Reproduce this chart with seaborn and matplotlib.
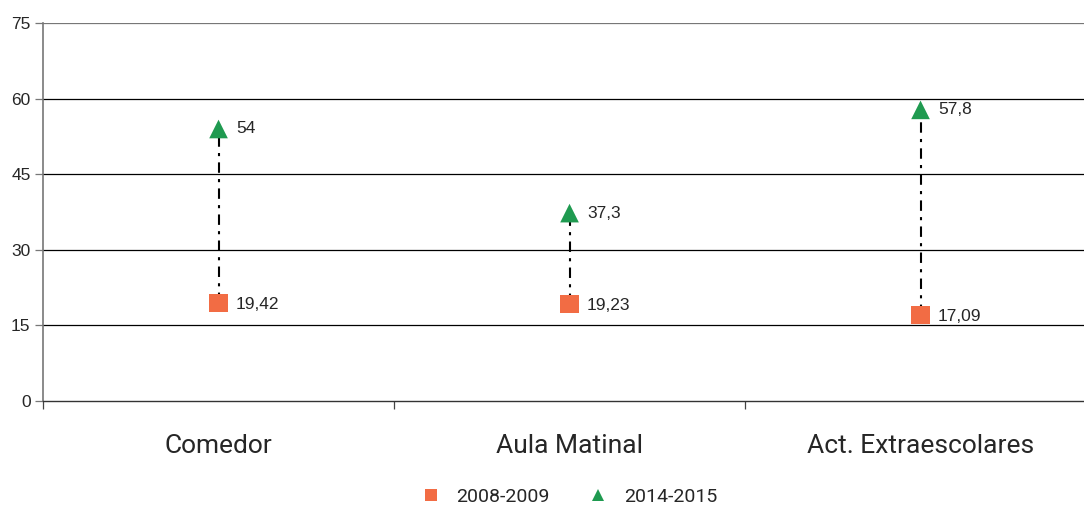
import matplotlib
matplotlib.use("Agg")
import matplotlib.pyplot as plt
import seaborn as sns
import pandas as pd
from matplotlib import font_manager

categorias = ["Comedor", "Aula Matinal", "Act. Extraescolares"]
serie_2008 = [19.42, 19.23, 17.09]
serie_2014 = [54, 37.3, 57.8]
etiq_2008 = ["19,42", "19,23", "17,09"]
etiq_2014 = ["54", "37,3", "57,8"]
periodos = ["2008-2009", "2014-2015"]
yticks = [0, 15, 30, 45, 60, 75]

df = pd.DataFrame({
    "cat": categorias * 2,
    "valor": serie_2008 + serie_2014,
    "periodo": [periodos[0]] * 3 + [periodos[1]] * 3,
})

sns.set_style("white")
plt.rcParams["font.family"] = ["Liberation Sans", "DejaVu Sans"]

nombres = {f.name for f in font_manager.fontManager.ttflist}
narrow = "Liberation Sans Narrow" if "Liberation Sans Narrow" in nombres else "Roboto"

fig = plt.figure(figsize=(10.84, 5.05), dpi=100)
# el eje se sale un poco por la derecha, como en el original
ax = fig.add_axes([0.0397, 0.206, 0.9714, 0.748])

naranja = "#F26C44"
verde = "#1F9A50"

# lineas punteadas entre los dos periodos
pos = range(len(categorias))
ax.vlines(list(pos), serie_2008, serie_2014, colors="black", linestyles=(0, (5, 3, 1.5, 3)),
          linewidth=1.5, zorder=2)

sns.scatterplot(data=df, x="cat", y="valor", hue="periodo", style="periodo",
                markers={periodos[0]: "s", periodos[1]: "^"},
                palette={periodos[0]: naranja, periodos[1]: verde},
                s=180, linewidth=0, ax=ax, zorder=3)

for i in pos:
    ax.annotate(etiq_2008[i], (i, serie_2008[i]), xytext=(12.5, -1), textcoords="offset points",
                fontsize=12.5, va="center")
    ax.annotate(etiq_2014[i], (i, serie_2014[i]), xytext=(12.5, 0), textcoords="offset points",
                fontsize=12.5, va="center")

ax.set_xlim(-0.5, 2.5)
ax.set_ylim(0, 75)
ax.set_yticks(yticks)
ax.set_yticklabels([str(t) for t in yticks], fontsize=12.5)
for t in yticks[1:]:
    ax.axhline(t, color="black" if t < 75 else "#777777", linewidth=0.9, zorder=1)

ax.set_xticks([-0.5, 0.5, 1.5, 2.5])
ax.set_xticklabels([])
ax.set_xticks(list(pos), minor=True)
ax.set_xticklabels(categorias, minor=True, fontsize=19, family=narrow)
ax.tick_params(axis="x", which="major", length=6, width=0.9, color="#444444", direction="out", bottom=True)
ax.tick_params(axis="x", which="minor", length=0, pad=24)
ax.tick_params(axis="y", length=6, width=0.9, color="#777777", left=True, pad=3)

for s in ["top", "right"]:
    ax.spines[s].set_visible(False)
ax.spines["left"].set_color("#777777")
ax.spines["bottom"].set_color("#333333")
ax.spines["left"].set_linewidth(1.2)
ax.spines["bottom"].set_linewidth(1.0)

ax.set_xlabel("")
ax.set_ylabel("")

h, l = ax.get_legend_handles_labels()
for hh in h:
    hh.set_markersize(9)
ax.legend(h, l, loc="lower center", bbox_to_anchor=(0.495, -0.325), ncol=2, frameon=False,
          prop={"family": narrow, "size": 14}, handletextpad=0.3, columnspacing=1.5)

plt.savefig("out.png", dpi=100)
